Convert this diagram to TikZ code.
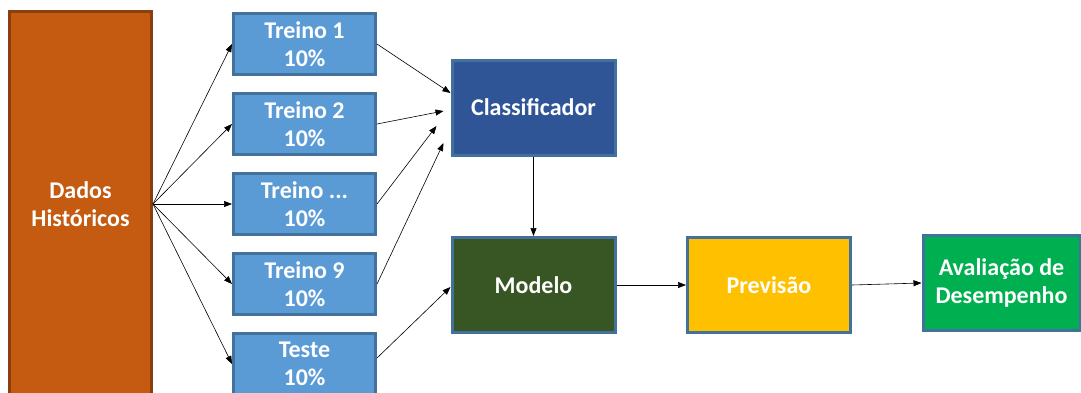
\documentclass[tikz,border=0pt]{standalone}
\usepackage{fontspec}
\setmainfont{Carlito}
\usetikzlibrary{arrows.meta,calc}
\definecolor{dadosfill}{HTML}{C55A11}
\definecolor{dadosline}{HTML}{8B3E0F}
\definecolor{treinofill}{HTML}{5B9BD5}
\definecolor{boxline}{HTML}{41719C}
\definecolor{clsfill}{HTML}{2F5597}
\definecolor{modfill}{HTML}{375623}
\definecolor{prevfill}{HTML}{FFC000}
\definecolor{avalfill}{HTML}{00B050}
\tikzset{
  box/.style={draw=boxline, line width=3pt, text=white, font=\fontsize{24}{28}\selectfont\bfseries, align=center, inner sep=0pt},
  treino/.style={box, fill=treinofill, minimum width=142pt, minimum height=61pt},
  bigbox/.style={box, minimum width=163pt, minimum height=95pt},
  arr/.style={-{Triangle[length=8pt,width=6pt]}, line width=0.6pt, black}
}
\begin{document}
\begin{tikzpicture}[x=1pt,y=-1pt]
\clip (0,0) rectangle (1081,392);
\fill[white] (0,0) rectangle (1081,392);
\node[box, fill=dadosfill, draw=dadosline, minimum width=142pt, minimum height=385pt] (dados) at (80.5,204) {Dados\\Históricos};
\node[treino] (t1) at (304.5,44) {Treino 1\\10\%};
\node[treino] (t2) at (304.5,124) {Treino 2\\10\%};
\node[treino] (t3) at (304.5,204) {Treino ...\\10\%};
\node[treino] (t9) at (304.5,284) {Treino 9\\10\%};
\node[treino] (te) at (304.5,364) {Teste\\10\%};
\node[bigbox, fill=clsfill] (cls) at (533.5,107.5) {Classificador};
\node[bigbox, fill=modfill] (mod) at (533.5,285) {Modelo};
\node[bigbox, fill=prevfill] (prev) at (769,285) {Previsão};
\node[bigbox, fill=avalfill, minimum width=157pt] (aval) at (1001.5,283) {Avaliação de\\Desempenho};
\foreach \t in {t1,t2,t3,t9,te} \draw[arr] (dados.east) -- (\t.west);
\draw[arr] (t1.east) -- ([yshift=14.5pt]cls.west);
\draw[arr] (t2.east) -- ([shift={(-7pt,-3.5pt)}]cls.west);
\draw[arr] (t3.east) -- ([shift={(-14pt,-18.5pt)}]cls.west);
\draw[arr] (t9.east) -- ([shift={(-7pt,-35.5pt)}]cls.west);
\draw[arr] ([yshift=6pt]te.east) -- ([yshift=-2pt]mod.west);
\draw[arr] (cls.south) -- (mod.north);
\draw[arr] (mod.east) -- (prev.west);
\draw[arr] (prev.east) -- (aval.west);
\end{tikzpicture}
\end{document}
